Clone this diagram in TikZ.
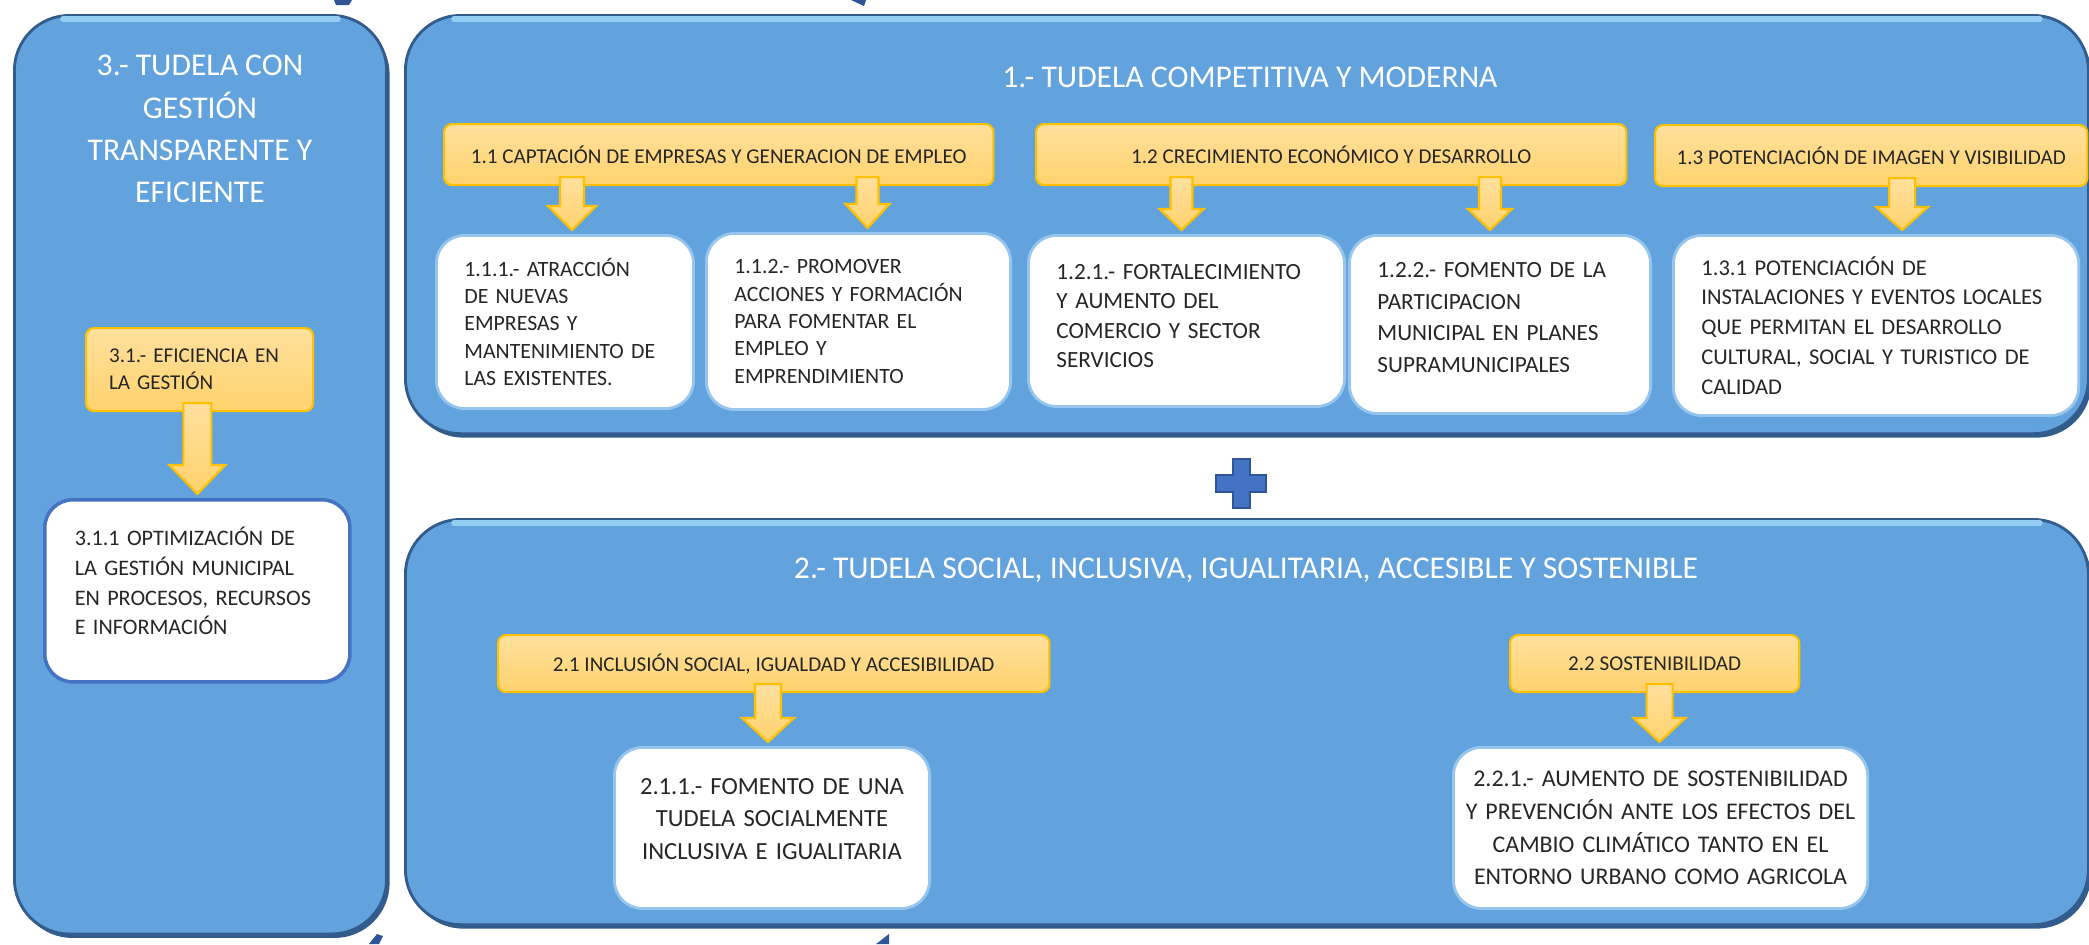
\documentclass[tikz,border=0pt]{standalone}
\usepackage{fontspec}
\setmainfont{Carlito}
\usetikzlibrary{calc}

\definecolor{panelblue}{RGB}{98,163,222}
\definecolor{paneledge}{RGB}{50,92,140}
\definecolor{panellight}{RGB}{150,205,245}
\definecolor{ylwtop}{RGB}{255,224,158}
\definecolor{ylwbot}{RGB}{255,210,108}
\definecolor{ylwedge}{RGB}{255,192,0}
\definecolor{wedge}{RGB}{150,198,238}
\definecolor{boxedge}{RGB}{68,114,196}
\definecolor{plusblue}{RGB}{68,114,196}
\definecolor{plusedge}{RGB}{47,85,151}
\definecolor{darkblue}{RGB}{47,85,151}
\definecolor{txt}{RGB}{38,38,38}

\tikzset{
  panel/.style={anchor=north west, inner sep=0pt, rounded corners=0.55cm,
    fill=panelblue, draw=paneledge, line width=0.8pt,
    preaction={fill=paneledge, transform canvas={xshift=0.03cm, yshift=-0.04cm}}},
  hilite/.style={panellight, line width=1.6pt, line cap=round},
  titulo/.style={text=white, align=center, font=\fontsize{9}{12}\selectfont},
  ybox/.style={anchor=north west, inner sep=0pt, rounded corners=0.08cm,
    draw=ylwedge, line width=0.6pt, top color=ylwtop, bottom color=ylwbot,
    text=txt, font=\fontsize{6}{7.7}\selectfont},
  wbox/.style={anchor=north west, inner xsep=0.28cm, inner ysep=0pt,
    rounded corners=0.28cm, draw=wedge, line width=0.8pt, fill=white,
    text=txt, align=left},
  yarrow/.style={draw=ylwedge, line width=0.6pt, top color=ylwtop, bottom color=ylwbot},
}

% raises a text block by half of #1
\newcommand{\lift}[1]{\rule[-#1]{0pt}{0pt}}

% block arrow: #1 x shift, #2 half shaft, #3 head length, #4 from, #5 to
\newcommand{\flecha}[5]{%
  \coordinate (tip) at ($(#5.north)+(#1,-4)$);
  \coordinate (top) at ($(tip |- #4.south)+(0,-9)$);
  \draw[yarrow] ($(top)+(-#2,0)$) -- ($(top)+(#2,0)$) -- ($(tip)+(#2,-#3)$)
    -- ($(tip)+(2*#2,-#3)$) -- (tip) -- ($(tip)+(-2*#2,-#3)$)
    -- ($(tip)+(-#2,-#3)$) -- cycle;
}

\begin{document}
\begin{tikzpicture}[x=0.01cm, y=-0.01cm]

  \useasboundingbox (0,0) rectangle (2089,944);

  % ends of the circular arrows behind the panels
  \fill[darkblue] (334,0) -- (352,0) -- (349,5) -- (336,5) -- cycle;
  \fill[darkblue] (851,0) -- (866,0) -- (864,6) -- cycle;
  \fill[darkblue] (369,944) -- (379,944) -- (383,936) -- (377,934) -- cycle;
  \fill[darkblue] (876,944) -- (889,944) -- (889,934) -- cycle;

  % the three panels
  \node[panel, minimum width=3.72cm, minimum height=9.18cm] (p3) at (13,14) {};
  \node[panel, minimum width=16.82cm, minimum height=4.18cm] (p1) at (404,14) {};
  \node[panel, minimum width=16.82cm, minimum height=4.05cm] (p2) at (404,518) {};
  \draw[hilite] ($(p3.north west)+(50,5)$) -- ($(p3.north east)+(-50,5)$);
  \draw[hilite] ($(p1.north west)+(50,5)$) -- ($(p1.north east)+(-50,5)$);
  \draw[hilite] ($(p2.north west)+(50,5)$) -- ($(p2.north east)+(-50,5)$);

  % titles
  \node[titulo] (t3) at (200,129) {3.- TUDELA CON\\GESTIÓN\\TRANSPARENTE Y\\EFICIENTE};
  \node[titulo] (t1) at (1250,77) {1.- TUDELA COMPETITIVA Y MODERNA};
  \node[titulo] (t2) at (1246,570) {2.- TUDELA SOCIAL, INCLUSIVA, IGUALITARIA, ACCESIBLE Y SOSTENIBLE};

  % plus sign
  \filldraw[fill=plusblue, draw=plusedge, line width=0.6pt]
    (1233,459) -- (1250,459) -- (1250,475) -- (1266,475) -- (1266,492) -- (1250,492)
    -- (1250,508) -- (1233,508) -- (1233,492) -- (1216,492) -- (1216,475) -- (1233,475) -- cycle;

  % yellow headers
  \node[ybox, minimum width=5.49cm, minimum height=0.61cm] (y11) at (443,123)
    {1.1 CAPTACIÓN DE EMPRESAS Y GENERACION DE EMPLEO};
  \node[ybox, minimum width=5.90cm, minimum height=0.61cm] (y12) at (1035,123)
    {1.2 CRECIMIENTO ECONÓMICO Y DESARROLLO};
  \node[ybox, minimum width=4.32cm, minimum height=0.61cm] (y13) at (1654,124)
    {1.3 POTENCIACIÓN DE IMAGEN Y VISIBILIDAD};
  \node[ybox, minimum width=2.27cm, minimum height=0.83cm, inner xsep=0.23cm,
    text width=1.81cm, align=left] (y31) at (85,327)
    {3.1.- EFICIENCIA EN\\LA GESTIÓN};
  \node[ybox, minimum width=5.51cm, minimum height=0.57cm] (y21) at (497,634)
    {2.1 INCLUSIÓN SOCIAL, IGUALDAD Y ACCESIBILIDAD};
  \node[ybox, minimum width=2.89cm, minimum height=0.57cm] (y22) at (1509,634)
    {2.2 SOSTENIBILIDAD};

  % white boxes
  \node[wbox, minimum width=2.57cm, minimum height=1.73cm, text width=2.01cm,
    font=\fontsize{6.2}{7.8}\selectfont] (w111) at (435,234)
    {1.1.1.- ATRACCIÓN\\DE NUEVAS\\EMPRESAS Y\\MANTENIMIENTO DE\\LAS EXISTENTES.};
  \node[wbox, minimum width=3.04cm, minimum height=1.76cm, text width=2.48cm,
    font=\fontsize{6.2}{7.8}\selectfont] (w112) at (705,232)
    {1.1.2.- PROMOVER\\ACCIONES Y FORMACIÓN\\PARA FOMENTAR EL\\EMPLEO Y\\EMPRENDIMIENTO};
  \node[wbox, minimum width=3.16cm, minimum height=1.71cm, text width=2.60cm,
    font=\fontsize{6.6}{8.3}\selectfont] (w121) at (1027,234)
    {1.2.1.- FORTALECIMIENTO\\Y AUMENTO DEL\\COMERCIO Y SECTOR\\SERVICIOS\lift{0.1cm}};
  \node[wbox, minimum width=3.01cm, minimum height=1.78cm, text width=2.45cm,
    font=\fontsize{6.6}{9}\selectfont] (w122) at (1348,234)
    {1.2.2.- FOMENTO DE LA\\PARTICIPACION\\MUNICIPAL EN PLANES\\SUPRAMUNICIPALES\lift{0.14cm}};
  \node[wbox, minimum width=4.05cm, minimum height=1.80cm, text width=3.49cm,
    font=\fontsize{6.4}{8.5}\selectfont] (w131) at (1672,234)
    {1.3.1 POTENCIACIÓN DE\\INSTALACIONES Y EVENTOS LOCALES\\QUE PERMITAN EL DESARROLLO\\CULTURAL, SOCIAL Y TURISTICO DE\\CALIDAD};
  \node[wbox, draw=boxedge, line width=1pt, inner xsep=0.30cm, minimum width=3.05cm,
    minimum height=1.82cm, text width=2.45cm, font=\fontsize{6.3}{8.5}\selectfont] (w311) at (43,498)
    {3.1.1 OPTIMIZACIÓN DE\\LA GESTIÓN MUNICIPAL\\EN PROCESOS, RECURSOS\\E INFORMACIÓN\lift{0.2cm}};
  \node[wbox, align=center, inner xsep=0.1cm, minimum width=3.15cm, minimum height=1.61cm,
    text width=2.95cm, font=\fontsize{7}{9.3}\selectfont] (w211) at (613,746)
    {2.1.1.- FOMENTO DE UNA\\TUDELA SOCIALMENTE\\INCLUSIVA E IGUALITARIA\lift{0.18cm}};
  \node[wbox, align=center, inner xsep=0.1cm, minimum width=4.14cm, minimum height=1.61cm,
    text width=3.94cm, font=\fontsize{6.8}{9.3}\selectfont] (w221) at (1452,746)
    {2.2.1.- AUMENTO DE SOSTENIBILIDAD\\Y PREVENCIÓN ANTE LOS EFECTOS DEL\\CAMBIO CLIMÁTICO TANTO EN EL\\ENTORNO URBANO COMO AGRICOLA};

  % arrows
  \flecha{7}{12}{24}{y11}{w111}
  \flecha{9}{11}{24}{y11}{w112}
  \flecha{-5}{11}{21}{y12}{w121}
  \flecha{-10}{11}{21}{y12}{w122}
  \flecha{26}{13}{23}{y13}{w131}
  \flecha{0}{14}{29}{y31}{w311}
  \flecha{-4}{13}{24}{y21}{w211}
  \flecha{-1}{13}{24}{y22}{w221}

\end{tikzpicture}
\end{document}
